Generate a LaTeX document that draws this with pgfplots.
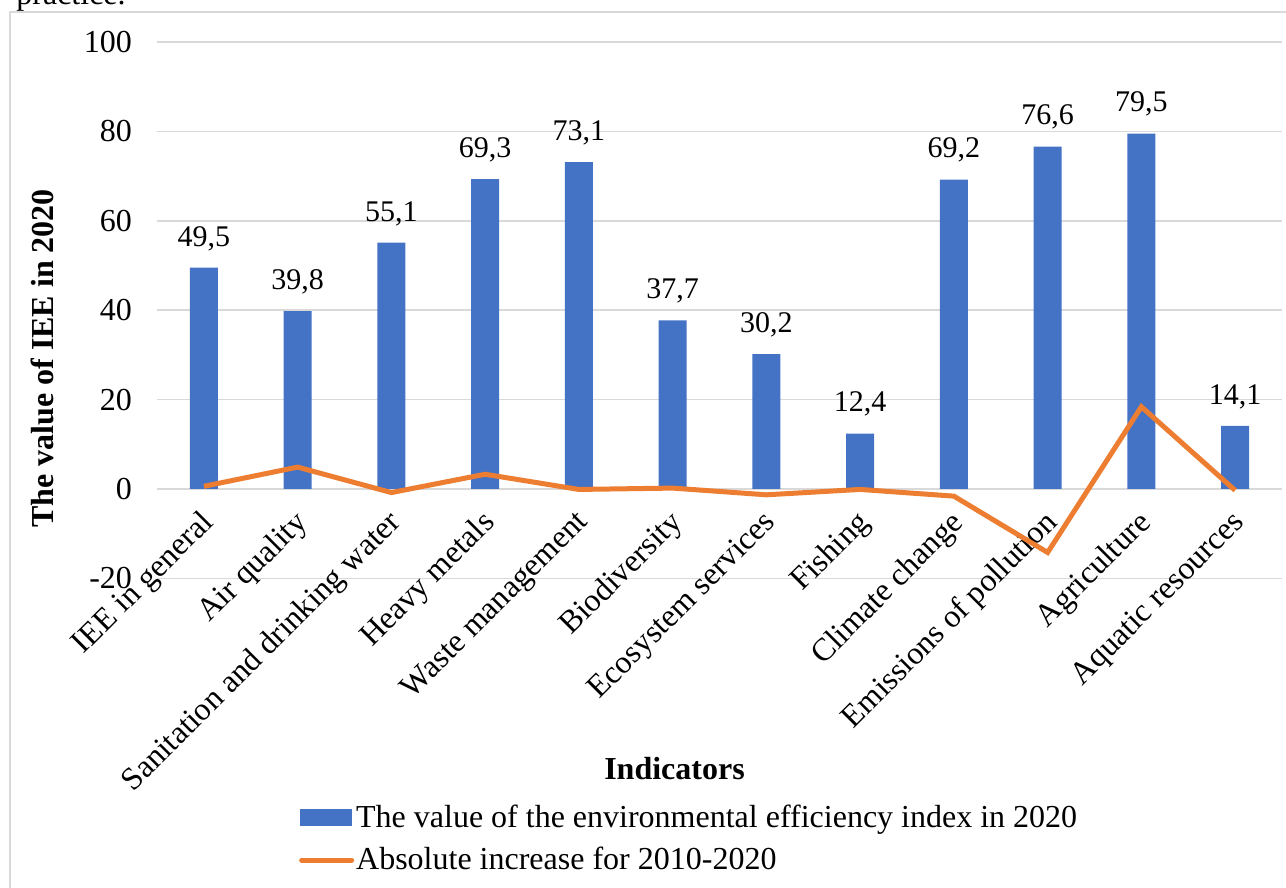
\documentclass[border=0pt]{standalone}
\usepackage{fontspec}
\setmainfont{Liberation Serif}
\usepackage{pgfplots}
\pgfplotsset{compat=1.18}
\definecolor{cblue}{HTML}{4472C4}
\definecolor{corange}{HTML}{ED7D31}
\definecolor{cgrid}{HTML}{D9D9D9}
\newcommand{\fs}{\fontsize{16}{19.5}\selectfont}
\begin{document}
\begin{tikzpicture}[x=1pt,y=1pt]
\useasboundingbox (0,0) rectangle (643,444);
\draw[cgrid, line width=1pt] (5,-10) -- (5,438) -- (660,438);
\node[anchor=base west, inner sep=0, font=\fs] at (8,441.5) {practice.};
\begin{axis}[
  at={(78.5pt,154.8pt)}, anchor=south west,
  scale only axis, width=562.5pt, height=268.2pt,
  xmin=-0.5, xmax=11.5, ymin=-20, ymax=100,
  ytick={-20,0,...,100},
  xtick={0,...,11},
  xticklabels={IEE in general, Air quality, Sanitation and drinking water, Heavy metals, Waste management, Biodiversity, Ecosystem services, Fishing, Climate change, Emissions of pollution, Agriculture, Aquatic resources},
  axis line style={draw=none},
  ymajorgrids, grid style={cgrid, line width=0.75pt},
  major tick length=0pt,
  tick label style={font=\fs},
  /pgf/number format/assume math mode=true,
  yticklabel style={xshift=-9pt},
  xticklabel style={yshift=40pt, xshift=-2.5pt, rotate=45, anchor=north east},
  xlabel={Indicators},
  xlabel style={at={(axis description cs:0.46,-0.354)}, anchor=center, font=\fs\bfseries},
  ylabel={The value of IEE in 2020},
  ylabel style={at={(axis description cs:-0.102,0.41)}, anchor=center, font=\fs\bfseries},
  legend style={at={(0.126,-0.414)}, anchor=north west, draw=none, fill=none, font=\fs, inner sep=0pt,
    nodes={inner xsep=1pt}, row sep=4.5pt},
  legend cell align=left,
  /tikz/every even column/.append style={column sep=0pt},
]
\addplot[ybar, bar width=14pt, fill=cblue, draw=none,
  nodes near coords={\pgfmathprintnumber[fixed,fixed zerofill,precision=1,use comma]{\pgfplotspointmeta}},
  every node near coord/.append style={font=\fontsize{15}{18}\selectfont, text=black, yshift=5pt},
  legend image code/.code={\fill[cblue] (0pt,-4.25pt) rectangle (26pt,4.25pt);}]
coordinates {(0,49.5) (1,39.8) (2,55.1) (3,69.3) (4,73.1) (5,37.7) (6,30.2) (7,12.4) (8,69.2) (9,76.6) (10,79.5) (11,14.1)};
\addlegendentry{The value of the environmental efficiency index in 2020}
\addplot[corange, line width=2.5pt, sharp plot, mark=none,
  legend image code/.code={\draw[corange, line width=2.5pt, line cap=round] (1pt,0pt) -- (26pt,0pt);}]
coordinates {(0,0.6) (1,4.9) (2,-0.8) (3,3.3) (4,-0.1) (5,0.2) (6,-1.3) (7,-0.1) (8,-1.6) (9,-14.2) (10,18.4) (11,-0.3)};
\addlegendentry{Absolute increase for 2010-2020}
\end{axis}
\end{tikzpicture}
\end{document}
